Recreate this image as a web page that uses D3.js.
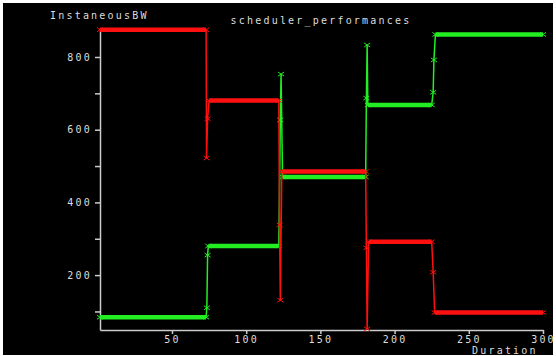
<!DOCTYPE html>
<html>
<head>
<meta charset="utf-8">
<script src="https://cdn.jsdelivr.net/npm/d3@7"></script>
<style>
  html, body { margin: 0; padding: 0; background: #fff; overflow: hidden; }
  svg { display: block; }
  text { font-family: "DejaVu Sans Mono", monospace; font-size: 10px; letter-spacing: 2.2px; fill: #ddd; }
</style>
</head>
<body>
<div id="chart"></div>
<script>
var width = 556, height = 356;

// red series: [duration, bandwidth]
var redSeries = [[1.5, 875], [73, 875], [73.3, 522], [74, 630], [75, 680], [122, 680],
  [122.5, 338], [123, 131], [124, 485], [180.5, 485], [181, 275], [181.5, 52],
  [182.5, 292], [225, 292], [226, 208], [227, 97], [300, 97]];

// green series
var greenSeries = [[1.5, 84], [73, 84], [73.5, 110], [74, 255], [74.5, 280], [122, 280],
  [123, 627], [123.5, 753], [124.5, 470], [180.5, 470], [181, 687], [181.5, 833],
  [182, 668], [225, 668], [226, 703], [226.5, 792], [227.5, 862], [300, 862]];

var xTicks = [50, 100, 150, 200, 250, 300];
var yTicks = [100, 200, 300, 400, 500, 600, 700, 800];
var yLabelled = [200, 400, 600, 800];

var svg = d3.select('#chart').append('svg').attr('width', width).attr('height', height);

svg.append('rect').attr('x', 3).attr('y', 3).attr('width', 550).attr('height', 352).attr('fill', '#000');

var x = d3.scaleLinear().domain([1.5, 300]).range([100, 543]);
var y = d3.scaleLinear().domain([49, 877]).range([330, 29]);

var xAxis = d3.axisBottom(x).tickValues(xTicks).tickSize(4).tickSizeOuter(0).tickPadding(2);
var yAxis = d3.axisLeft(y).tickValues(yTicks).tickSize(5).tickSizeOuter(0).tickPadding(3)
  .tickFormat(function(d) { return yLabelled.indexOf(d) >= 0 ? d : ''; });

function styleAxis(g) {
  g.selectAll('path, line').attr('stroke', '#ccc').attr('stroke-width', 1.5);
  g.selectAll('text').attr('fill', '#ddd').style('font-size', '10px');
}

svg.append('g').attr('transform', 'translate(0,330)').call(xAxis).call(styleAxis);
svg.append('g').attr('transform', 'translate(100,0)').call(yAxis).call(styleAxis);

svg.append('text').attr('x', 321).attr('y', 24).attr('text-anchor', 'middle').text('scheduler_performances');
svg.append('text').attr('x', 50).attr('y', 19).text('InstaneousBW');
svg.append('text').attr('x', 472).attr('y', 354).text('Duration');

var line = d3.line().x(function(d) { return x(d[0]); }).y(function(d) { return y(d[1]); });

function drawSeries(data, color) {
  var g = svg.append('g');
  g.append('path').datum(data).attr('d', line)
    .attr('fill', 'none').attr('stroke', color).attr('stroke-width', 1.5);

  // plateaus look thick in the original
  for (var i = 1; i < data.length; i++) {
    if (data[i][1] === data[i - 1][1]) {
      g.append('line')
        .attr('x1', x(data[i - 1][0])).attr('x2', x(data[i][0]))
        .attr('y1', y(data[i][1])).attr('y2', y(data[i][1]))
        .attr('stroke', color).attr('stroke-width', 4.5);
    }
  }

  g.selectAll('path.mark').data(data).enter().append('path')
    .attr('class', 'mark')
    .attr('transform', function(d) { return 'translate(' + x(d[0]) + ',' + y(d[1]) + ')'; })
    .attr('d', 'M-3,-2L3,2M-3,2L3,-2')
    .attr('stroke', color).attr('stroke-width', 1);
}

drawSeries(greenSeries, '#22ee22');
drawSeries(redSeries, '#ff1010');
</script>
</body>
</html>
